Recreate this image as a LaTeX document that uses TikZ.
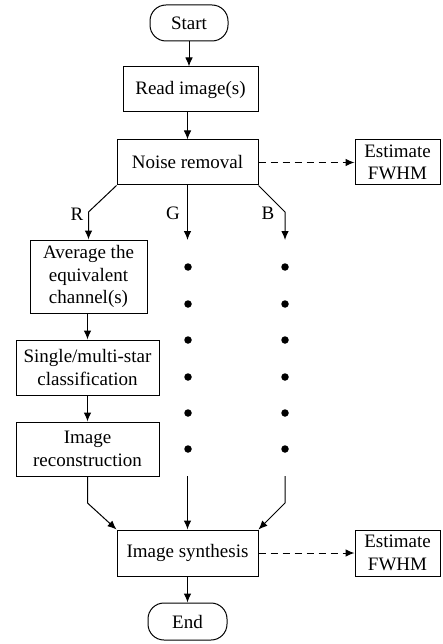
\documentclass[tikz,border=0pt]{standalone}
\usepackage{fontspec}
\setmainfont{Liberation Serif}
\usetikzlibrary{arrows.meta}
\begin{document}
\begin{tikzpicture}[x=1pt,y=-1pt,
  every node/.style={font=\fontsize{19}{22.5}\selectfont},
  box/.style={draw,line width=1pt,rectangle,inner sep=0pt,align=center},
  term/.style={draw,line width=1pt,rectangle,rounded corners=16pt,inner sep=0pt,align=center},
  dot/.style={circle,fill=black,inner sep=0pt,minimum size=7.5pt},
  arr/.style={line width=1pt,-{Latex[length=9pt,width=7.5pt]}},
  darr/.style={line width=1pt,dash pattern=on 7pt off 5pt,-{Latex[length=9pt,width=7.5pt]}},
  lbl/.style={inner sep=0pt}]
\useasboundingbox (0,0) rectangle (442,644);
\node[term,minimum width=78pt,minimum height=36pt] (start) at (189,23) {Start};
\node[box,minimum width=135pt,minimum height=45pt] (read) at (190.5,89.5) {Read image(s)};
\node[box,minimum width=141pt,minimum height=45pt] (noise) at (187.5,162.5) {Noise removal};
\node[box,minimum width=85pt,minimum height=45pt] (est1) at (397.5,162.5) {Estimate\\FWHM};
\node[box,minimum width=117pt,minimum height=73pt] (avg) at (88.5,276.5) {Average the\\equivalent\\channel(s)};
\node[box,minimum width=143pt,minimum height=55pt] (single) at (87.5,367.5) {Single/multi-star\\classification};
\node[box,minimum width=143pt,minimum height=54pt] (recon) at (87.5,449) {Image\\reconstruction};
\node[box,minimum width=141pt,minimum height=46pt] (synth) at (187.5,553) {Image synthesis};
\node[box,minimum width=85pt,minimum height=46pt] (est2) at (397.5,553) {Estimate\\FWHM};
\node[term,minimum width=79pt,minimum height=37pt] (end) at (187.5,621.5) {End};
% labels
\node[lbl] (lR) at (77,214) {R};
\node[lbl] (lG) at (173,213) {G};
\node[lbl] (lB) at (268,213) {B};
% dots
\foreach \y [count=\i] in {267,304,340,377,413,449}{
  \node[dot] (g\i) at (188,\y) {};
  \node[dot] (b\i) at (285,\y) {};
}
% coordinates
\coordinate (rk) at (88.5,212);
\coordinate (gtop) at (187.5,240);
\coordinate (bk) at (285,212);
\coordinate (btop) at (285,240);
\coordinate (rb) at (87.5,503);
\coordinate (gbot) at (187.5,476);
\coordinate (bbot) at (285,476);
\coordinate (bb) at (285,503);
% connectors
\draw[arr] (start.south) -- (start.south |- read.north);
\draw[arr] (noise.north |- read.south) -- (noise.north);
\draw[darr] (noise) -- (est1);
\draw[arr] (noise.south west) -- (rk) -- (avg.north);
\draw[arr] (noise.south) -- (gtop);
\draw[arr] (noise.south east) -- (bk) -- (btop);
\draw[arr] (avg.south -| single.north) -- (single.north);
\draw[arr] (single) -- (recon);
\draw[arr] (recon.south) -- (rb) -- (synth.north west);
\draw[arr] (gbot) -- (synth.north);
\draw[arr] (bbot) -- (bb) -- (synth.north east);
\draw[darr] (synth) -- (est2);
\draw[arr] (synth) -- (end);
\end{tikzpicture}
\end{document}
